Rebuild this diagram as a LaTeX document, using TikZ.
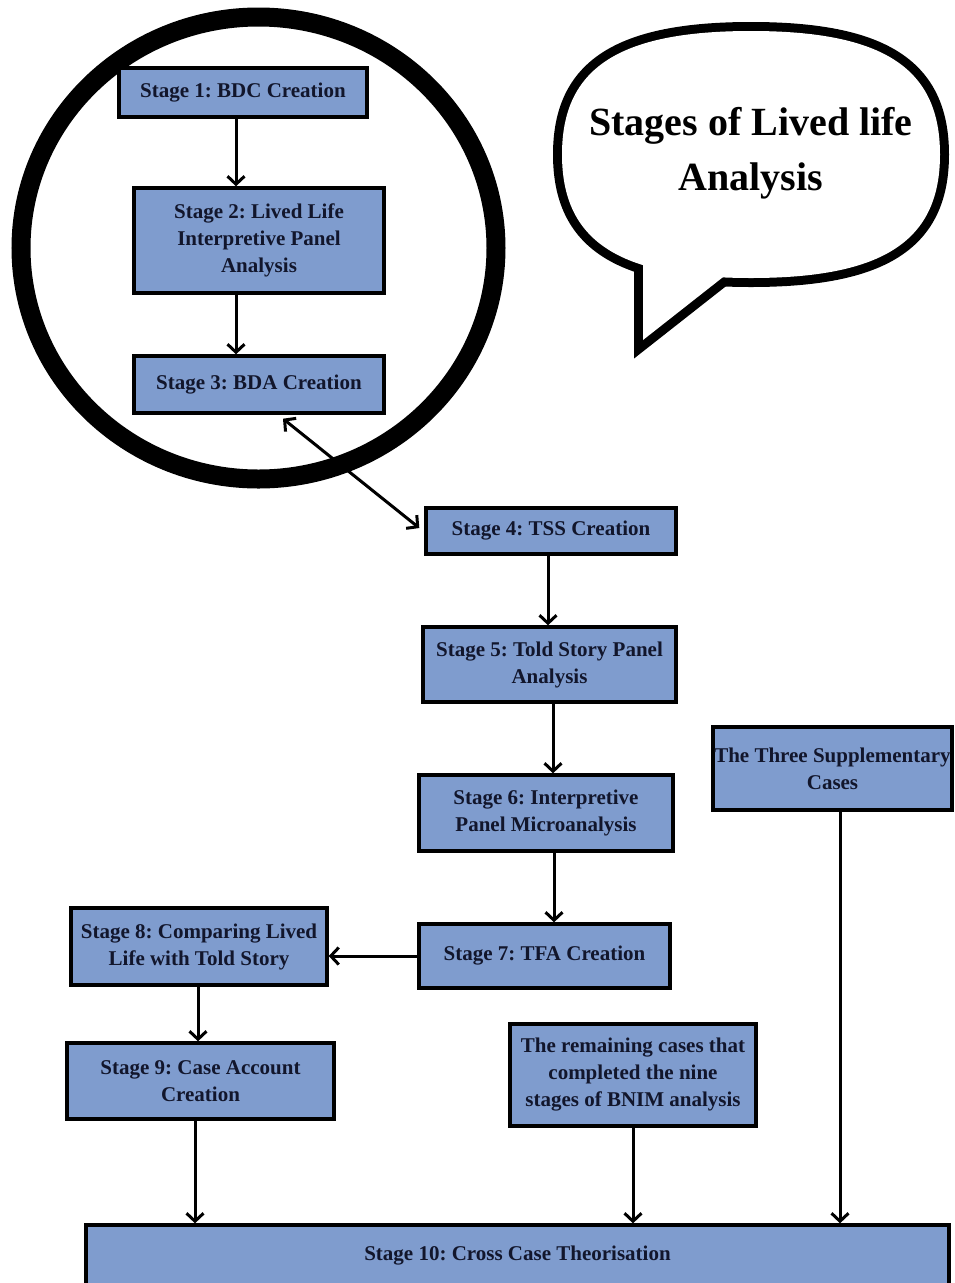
\documentclass[tikz,border=0pt]{standalone}
\usepackage{fontspec}
\setmainfont{Liberation Serif}
\usetikzlibrary{arrows.meta}
\definecolor{boxfill}{RGB}{127,156,206}
\definecolor{boxtext}{RGB}{18,22,44}
\frenchspacing
\begin{document}
\begin{tikzpicture}[x=1pt,y=-1pt,
  stagebox/.style={draw=black, line width=3.4pt, fill=boxfill, text=boxtext,
    font=\bfseries\fontsize{21}{27}\selectfont, align=center, inner sep=0pt},
  flow/.style={line width=3pt, -{Straight Barb[length=8pt,width=17pt]}},
  flowboth/.style={line width=3pt, {Straight Barb[length=8pt,width=17pt]}-{Straight Barb[length=8pt,width=17pt]}},
  outline/.style={draw=black, line width=18pt, line join=miter}
]
\useasboundingbox (0,0) rectangle (955,1283);
\fill[white] (0,0) rectangle (955,1283);

% ring around the first three stages
\draw[line width=19pt] (258.5,248) ellipse [x radius=237.5pt, y radius=231pt];

% speech bubble: thick strokes first, white fills on top leave only the outer half
\def\bubblepath{(940,154.5) .. controls (940,68.05) and (883.3,31) .. (751,31)
  .. controls (618.7,31) and (562,68.05) .. (562,154.5)
  .. controls (562,240.95) and (618.7,278) .. (751,278)
  .. controls (883.3,278) and (940,240.95) .. (940,154.5) -- cycle}
\def\tailpath{(643,200) -- (643,340) -- (760,248) -- (760,200) -- cycle}
\draw[outline] \bubblepath;
\draw[outline] \tailpath;
\fill[white] \bubblepath;
\fill[white] \tailpath;
\node[font=\bfseries\fontsize{40}{55}\selectfont, align=center, inner sep=0pt]
  (title) at (751,153) {Stages of Lived life\\Analysis};

% stages
\node[stagebox, minimum width=248pt, minimum height=49pt] (s1) at (243,92.5) {Stage 1: BDC Creation};
\node[stagebox, minimum width=250pt, minimum height=105pt] (s2) at (259,240.5) {Stage 2: Lived Life\\Interpretive Panel\\Analysis};
\node[stagebox, minimum width=250pt, minimum height=57pt] (s3) at (259,384.5) {Stage 3: BDA Creation};
\node[stagebox, minimum width=250pt, minimum height=46pt] (s4) at (551,531) {Stage 4: TSS Creation};
\node[stagebox, minimum width=253pt, minimum height=75pt] (s5) at (549.5,664.5) {Stage 5: Told Story Panel\\Analysis};
\node[stagebox, minimum width=254pt, minimum height=76pt] (s6) at (546,813) {Stage 6: Interpretive\\Panel Microanalysis};
\node[stagebox, minimum width=251pt, minimum height=64pt] (s7) at (544.5,956) {Stage 7: TFA Creation};
\node[stagebox, minimum width=256pt, minimum height=77pt] (s8) at (199,946.5) {Stage 8: Comparing Lived\\Life with Told Story};
\node[stagebox, minimum width=267pt, minimum height=76pt] (s9) at (200.5,1081) {Stage 9: Case Account\\Creation};
\node[stagebox, minimum width=246pt, minimum height=102pt] (rem) at (633,1075) {The remaining cases that\\completed the nine\\stages of BNIM analysis};
\node[stagebox, minimum width=239pt, minimum height=83pt] (sup) at (832.5,768.5) {The Three Supplementary\\Cases};
\node[stagebox, minimum width=863pt, minimum height=70pt, text depth=14pt] (s10) at (517.5,1260) {Stage 10: Cross Case Theorisation};

% connectors
\path ([xshift=-7pt]s1.south) coordinate (a1);
\draw[flow] (a1) -- (a1 |- s2.north);
\path ([xshift=-23pt,yshift=4pt]s2.south) coordinate (a2);
\draw[flow] (a2) -- (a2 |- s3.north);
\draw[flowboth] ([xshift=24pt,yshift=-4pt]s3.south) -- ([xshift=-5pt,yshift=3pt]s4.west);
\path ([xshift=-3pt]s4.south) coordinate (a4);
\draw[flow] (a4) -- (a4 |- s5.north);
\path ([xshift=3.5pt]s5.south) coordinate (a5);
\draw[flow] (a5) -- (a5 |- s6.north);
\path ([xshift=8pt]s6.south) coordinate (a6);
\draw[flow] (a6) -- (a6 |- s7.north);
\draw[flow] (s7.west) -- (s7.west -| s8.east);
\path ([xshift=-1pt]s8.south) coordinate (a8);
\draw[flow] (a8) -- (a8 |- s9.north);
\path ([xshift=-5.5pt]s9.south) coordinate (a9);
\draw[flow] (a9) -- (a9 |- s10.north);
\draw[flow] (rem.south) -- (rem.south |- s10.north);
\path ([xshift=7.5pt]sup.south) coordinate (asup);
\draw[flow] (asup) -- (asup |- s10.north);
\end{tikzpicture}
\end{document}
